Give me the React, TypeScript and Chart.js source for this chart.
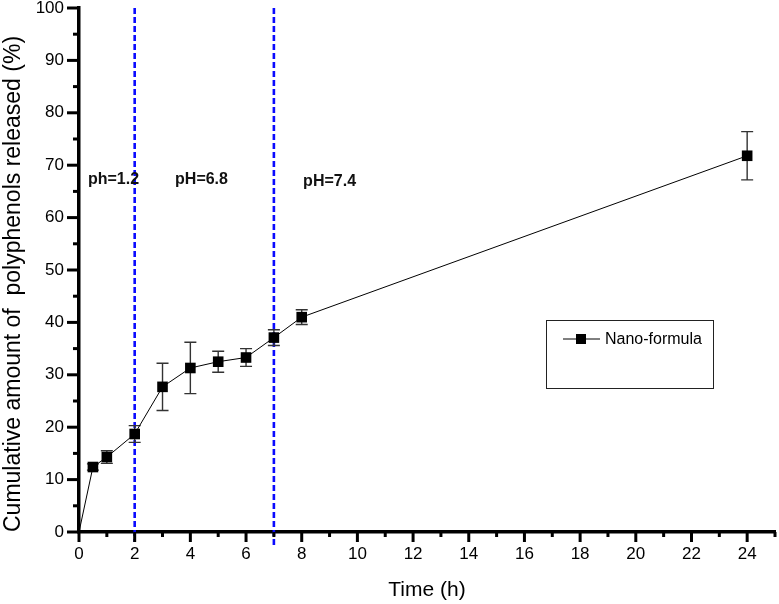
import React, { useEffect, useRef } from "react";
import { Chart, registerables } from "chart.js";

Chart.register(...registerables);

// ---- data ----
const timeH = [0, 0.5, 1, 2, 3, 4, 5, 6, 7, 8, 24];
const released = [0, 12.4, 14.3, 18.7, 27.7, 31.3, 32.5, 33.3, 37.1, 41.0, 71.8];
const errorSD = [0, 0.6, 1.2, 1.6, 4.5, 4.9, 2.0, 1.7, 1.5, 1.4, 4.6];
const seriesLabel = "Nano-formula";

const xMajorTicks = [0, 2, 4, 6, 8, 10, 12, 14, 16, 18, 20, 22, 24];
const xMinorTicks = [1, 3, 5, 7, 9, 11, 13, 15, 17, 19, 21, 23, 25];
const yMajorTicks = [0, 10, 20, 30, 40, 50, 60, 70, 80, 90, 100];
const yMinorTicks = [5, 15, 25, 35, 45, 55, 65, 75, 85, 95];

const phBoundaries = [2, 7];
const phLabels = ["ph=1.2", "pH=6.8", "pH=7.4"];
const phLabelX = [0.32, 3.45, 8.05];
const phLabelY = [67.2, 67.2, 66.8];

const xTitle = "Time (h)";
const yTitle = "Cumulative amount of  polyphenols released (%)";

const FONT = "'Liberation Sans', Arial, sans-serif";

const overlayPlugin = {
  id: "overlay",
  beforeDatasetsDraw(chart: any) {
    const { ctx, chartArea, scales } = chart;
    const xs = scales.x;
    const ys = scales.y;
    ctx.save();
    // blue dashed pH boundaries
    ctx.strokeStyle = "#0a0aff";
    ctx.lineWidth = 2.6;
    ctx.setLineDash([6, 3]);
    phBoundaries.forEach((b, i) => {
      const px = xs.getPixelForValue(b);
      ctx.beginPath();
      ctx.moveTo(px, chartArea.top);
      ctx.lineTo(px, chartArea.bottom + (i === 0 ? 10 : 16));
      ctx.stroke();
    });
    ctx.setLineDash([]);
    // error bars
    ctx.strokeStyle = "#333";
    ctx.lineWidth = 1.4;
    timeH.forEach((t, i) => {
      const e = errorSD[i];
      if (!e) return;
      const px = xs.getPixelForValue(t);
      const top = ys.getPixelForValue(released[i] + e);
      const bot = ys.getPixelForValue(released[i] - e);
      ctx.beginPath();
      ctx.moveTo(px, top);
      ctx.lineTo(px, bot);
      ctx.moveTo(px - 6, top);
      ctx.lineTo(px + 6, top);
      ctx.moveTo(px - 6, bot);
      ctx.lineTo(px + 6, bot);
      ctx.stroke();
    });
    // pH labels
    ctx.fillStyle = "#111";
    ctx.font = "bold 16px " + FONT;
    ctx.textAlign = "left";
    ctx.textBaseline = "middle";
    phLabels.forEach((l, i) => {
      ctx.fillText(l, xs.getPixelForValue(phLabelX[i]), ys.getPixelForValue(phLabelY[i]));
    });
    ctx.restore();
  },
  afterDraw(chart: any) {
    const { ctx, chartArea, scales } = chart;
    const xs = scales.x;
    const ys = scales.y;
    ctx.save();
    ctx.strokeStyle = "#000";
    ctx.lineWidth = 3;
    const yb = chartArea.bottom;
    const xl = chartArea.left;
    xMajorTicks.forEach((v) => {
      const p = xs.getPixelForValue(v);
      ctx.beginPath();
      ctx.moveTo(p, yb);
      ctx.lineTo(p, yb + 10);
      ctx.stroke();
    });
    xMinorTicks.forEach((v) => {
      const p = xs.getPixelForValue(v);
      ctx.beginPath();
      ctx.moveTo(p, yb);
      ctx.lineTo(p, yb + 5);
      ctx.stroke();
    });
    yMajorTicks.forEach((v) => {
      const p = ys.getPixelForValue(v);
      ctx.beginPath();
      ctx.moveTo(xl, p);
      ctx.lineTo(xl - 12, p);
      ctx.stroke();
    });
    yMinorTicks.forEach((v) => {
      const p = ys.getPixelForValue(v);
      ctx.beginPath();
      ctx.moveTo(xl, p);
      ctx.lineTo(xl - 6, p);
      ctx.stroke();
    });
    // legend box
    const lx = chartArea.left + 467;
    const ly = chartArea.top + 312;
    const lw = 167;
    const lh = 68;
    ctx.strokeStyle = "#222";
    ctx.lineWidth = 1;
    ctx.strokeRect(lx + 0.5, ly + 0.5, lw, lh);
    const my = ly + 19;
    ctx.strokeStyle = "#000";
    ctx.beginPath();
    ctx.moveTo(lx + 17, my);
    ctx.lineTo(lx + 54, my);
    ctx.stroke();
    ctx.fillStyle = "#000";
    ctx.fillRect(lx + 30, my - 5, 10, 10);
    ctx.font = "16px " + FONT;
    ctx.textAlign = "left";
    ctx.textBaseline = "middle";
    ctx.fillText(seriesLabel, lx + 59, my + 1);
    ctx.restore();
  },
};

export default function App() {
  const ref = useRef<HTMLCanvasElement>(null);
  useEffect(() => {
    if (!ref.current) return;
    const chart = new Chart(ref.current, {
      type: "line",
      data: {
        datasets: [
          {
            label: seriesLabel,
            data: timeH.map((t, i) => ({ x: t, y: released[i] })),
            borderColor: "#000",
            borderWidth: 1,
            backgroundColor: "#000",
            pointStyle: "rect",
            pointRadius: (c: any) => (c.dataIndex === 0 ? 0 : 7.5),
            pointBorderWidth: 0,
            pointBackgroundColor: "#000",
            tension: 0,
          },
        ],
      },
      options: {
        animation: false,
        responsive: false,
        devicePixelRatio: 1,
        layout: { autoPadding: false, padding: { top: 8, right: 4, left: 0, bottom: 0 } },
        plugins: { legend: { display: false }, tooltip: { enabled: false } },
        scales: {
          x: {
            type: "linear",
            min: 0,
            max: 25,
            afterFit: (s: any) => {
              s.height = 72;
              s.paddingLeft = 0;
              s.paddingRight = 0;
            },
            afterBuildTicks: (s: any) => {
              s.ticks = xMajorTicks.map((v) => ({ value: v }));
            },
            grid: { display: false, drawTicks: false },
            border: { display: true, color: "#000", width: 3.5 },
            ticks: {
              autoSkip: false,
              maxRotation: 0,
              padding: 12,
              color: "#000",
              font: { family: FONT, size: 17 },
            },
            title: {
              display: true,
              text: xTitle,
              color: "#000",
              font: { family: FONT, size: 21 },
              padding: { top: 0, bottom: 1 },
            },
          },
          y: {
            type: "linear",
            min: 0,
            max: 100,
            afterFit: (s: any) => {
              s.width = 79;
              s.paddingTop = 0;
              s.paddingBottom = 0;
            },
            afterBuildTicks: (s: any) => {
              s.ticks = yMajorTicks.map((v) => ({ value: v }));
            },
            grid: { display: false, drawTicks: false },
            border: { display: true, color: "#000", width: 3.5 },
            ticks: {
              autoSkip: false,
              padding: 15,
              color: "#000",
              font: { family: FONT, size: 17 },
            },
            title: {
              display: true,
              text: yTitle,
              align: "start",
              color: "#000",
              font: { family: FONT, size: 23 },
              padding: { top: 0, bottom: 0 },
            },
          },
        },
      },
      plugins: [overlayPlugin],
    } as any);
    return () => chart.destroy();
  }, []);
  return (
    <div style={{ position: "absolute", left: 0, top: 0, width: 779, height: 604, background: "#fff" }}>
      <canvas ref={ref} width={779} height={604} style={{ width: 779, height: 604 }} />
    </div>
  );
}
